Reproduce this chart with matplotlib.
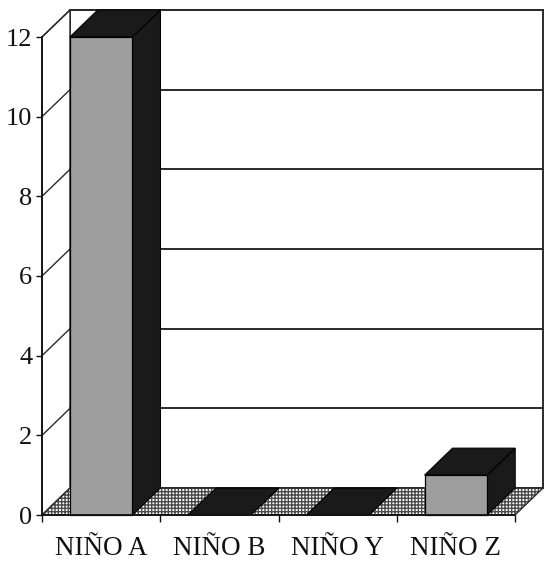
import matplotlib
matplotlib.use("Agg")
import matplotlib.pyplot as plt
from matplotlib.patches import Polygon
import numpy as np

categories = ["NIÑO A", "NIÑO B", "NIÑO Y", "NIÑO Z"]
values = [12, 0, 0, 1]
yticks = [0, 2, 4, 6, 8, 10, 12]
ymax = 12

plt.rcParams["hatch.linewidth"] = 1.0
plt.rcParams["font.family"] = ["Liberation Serif", "DejaVu Serif"]

W, H = 545, 563
fig = plt.figure(figsize=(W / 100, H / 100), dpi=100)
x0, x1 = 42, 515
y0, y1 = 515, 37
ax = fig.add_axes([x0 / W, (H - y0) / H, (x1 - x0) / W, (y0 - y1) / H])
ax.set_xlim(0, len(categories))
ax.set_ylim(0, ymax)

# depth vector in data units
DX = 28 / ((x1 - x0) / len(categories))
DY = 27 / ((y0 - y1) / ymax)
n = len(categories)
line_c = "#2a2a2a"
dark = "#1a1a1a"
front_c = "#9e9e9e"

def poly(pts, **kw):
    p = Polygon(pts, closed=True, clip_on=False, **kw)
    ax.add_patch(p)
    return p

# back wall
poly([(DX, DY), (n + DX, DY), (n + DX, ymax + DY), (DX, ymax + DY)],
     facecolor="white", edgecolor=line_c, linewidth=1.4, zorder=1)
# side wall
poly([(0, 0), (DX, DY), (DX, ymax + DY), (0, ymax)],
     facecolor="white", edgecolor=line_c, linewidth=1.0, zorder=1)
for v in yticks[1:]:
    ax.plot([DX, n + DX], [v + DY, v + DY], color=line_c, lw=1.4, zorder=2, clip_on=False)
    ax.plot([0, DX], [v, v + DY], color=line_c, lw=1.0, zorder=2, clip_on=False)

# floor
poly([(0, 0), (n, 0), (n + DX, DY), (DX, DY)],
     facecolor="white", edgecolor="#4a4a4a", hatch="+++++", linewidth=0, zorder=3)
poly([(0, 0), (n, 0), (n + DX, DY), (DX, DY)],
     facecolor="none", edgecolor=line_c, linewidth=1.0, zorder=3)

hw = 0.265
for i, v in enumerate(values):
    l, r = i + 0.5 - hw, i + 0.5 + hw
    # right side face
    poly([(r, 0), (r + DX, DY), (r + DX, v + DY), (r, v)],
         facecolor=dark, edgecolor="black", linewidth=0.8, zorder=4)
    # top face
    poly([(l, v), (r, v), (r + DX, v + DY), (l + DX, v + DY)],
         facecolor=dark, edgecolor="black", linewidth=0.8, zorder=5)
    # front face
    if v > 0:
        poly([(l, 0), (r, 0), (r, v), (l, v)],
             facecolor=front_c, edgecolor="black", linewidth=0.9, zorder=6)

for s in ["top", "right"]:
    ax.spines[s].set_visible(False)
for s in ["left", "bottom"]:
    ax.spines[s].set_linewidth(1.3)
    ax.spines[s].set_color("#111111")
    ax.spines[s].set_zorder(7)
ax.patch.set_visible(False)

ax.set_yticks(yticks)
ax.set_yticklabels([str(t) for t in yticks])
ax.tick_params(axis="y", direction="out", length=4, width=1.0, pad=3,
               labelsize=19, colors="#111111")
ax.set_xticks(np.arange(n) + 0.5)
ax.set_xticklabels(categories)
ax.set_xticks(np.arange(n + 1), minor=True)
ax.tick_params(axis="x", which="major", length=0, pad=15, labelsize=19.5, colors="#111111")
ax.tick_params(axis="x", which="minor", direction="out", length=5, width=1.0, color="#111111")

fig.savefig("out.png", dpi=100)
